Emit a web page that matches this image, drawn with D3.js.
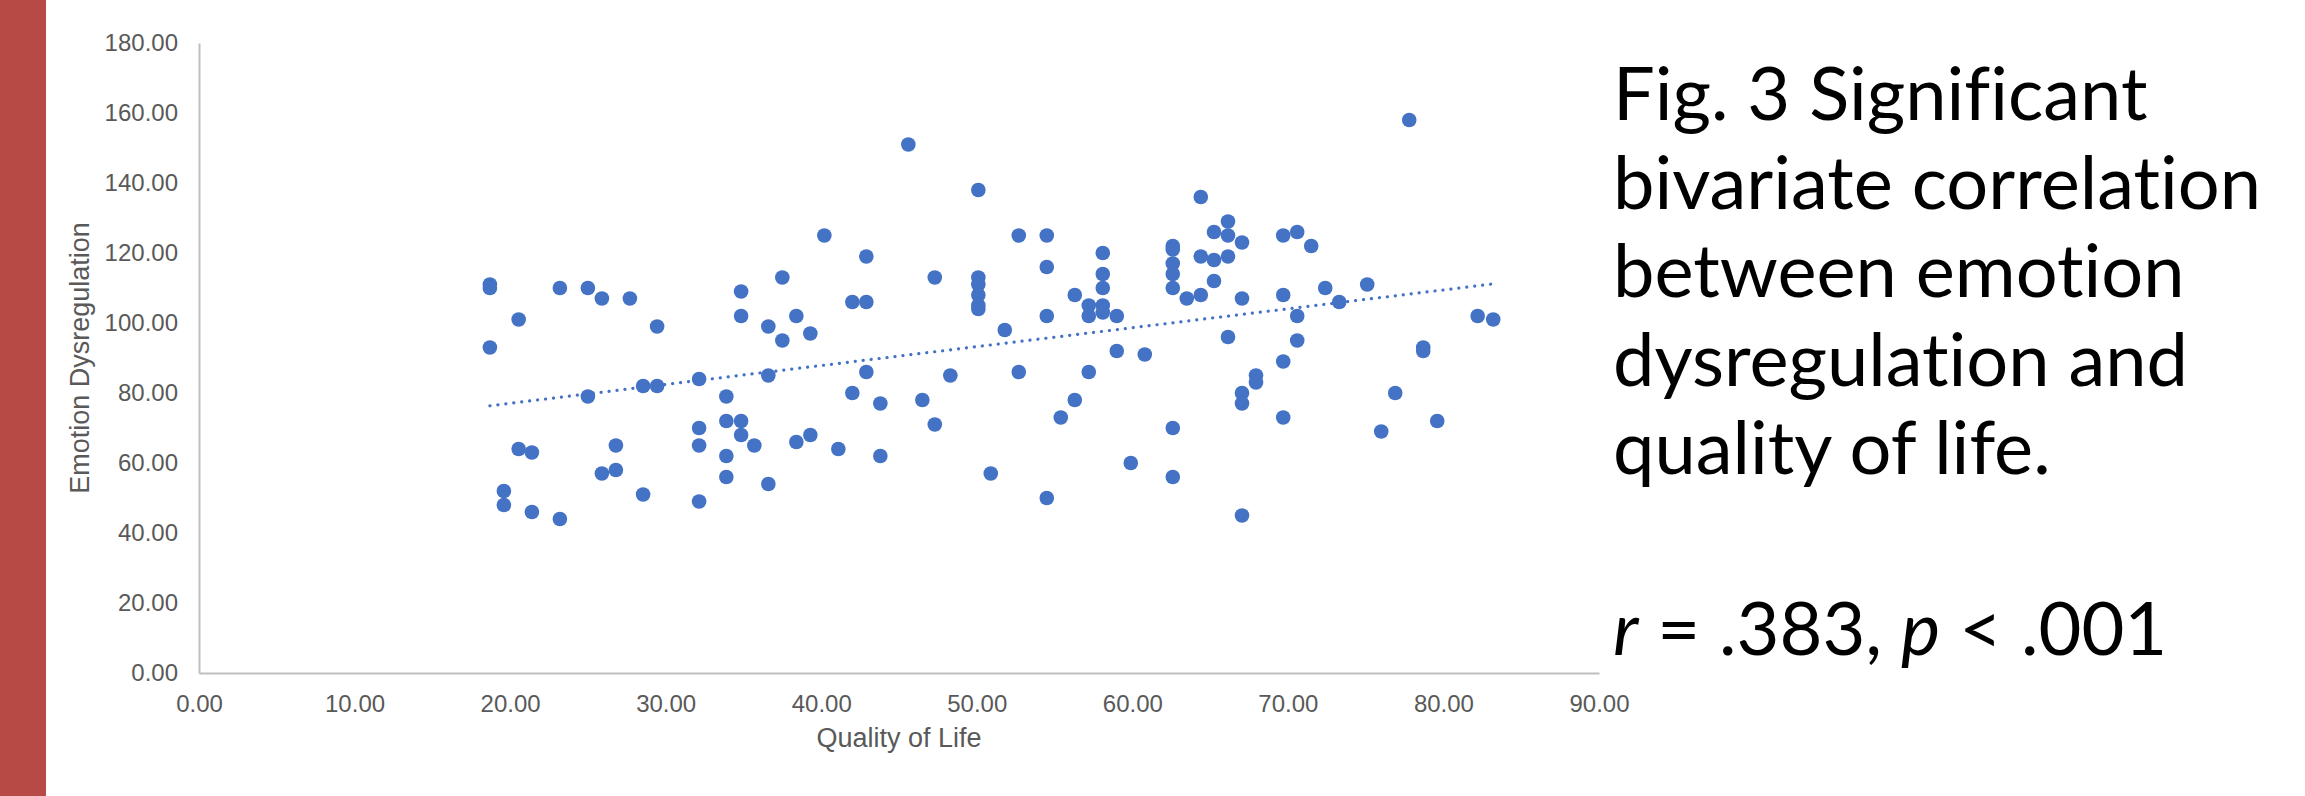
<!DOCTYPE html>
<html>
<head>
<meta charset="utf-8">
<script src="https://cdn.jsdelivr.net/npm/d3@7"></script>
<style>
  html, body { margin: 0; padding: 0; background: #fff; }
  svg { display: block; }
</style>
</head>
<body>
<div id="chart"></div>
<script>
// Quality of Life scores (x) and Emotion Dysregulation scores (y)
var qualityOfLife = [
  18.7, 18.7, 18.7, 19.6, 19.6, 20.55, 20.55, 21.4, 21.4, 23.2,
  23.2, 25.0, 25.0, 25.9, 25.9, 26.8, 26.8, 27.7, 28.55, 28.55,
  29.45, 29.45, 32.15, 32.15, 32.15, 32.15, 33.9, 33.9, 33.9, 33.9,
  34.85, 34.85, 34.85, 34.85, 35.7, 36.6, 36.6, 36.6, 37.5, 37.5,
  38.4, 38.4, 39.3, 39.3, 40.2, 41.1, 42.0, 42.0, 42.9, 42.9,
  42.9, 43.8, 43.8, 45.6, 46.5, 47.3, 47.3, 48.3, 50.1, 50.1,
  50.1, 50.1, 50.1, 50.1, 50.9, 51.8, 52.7, 52.7, 54.5, 54.5,
  54.5, 54.5, 55.4, 56.3, 56.3, 57.2, 57.2, 57.2, 58.1, 58.1,
  58.1, 58.1, 58.1, 59.0, 59.0, 59.9, 60.8, 62.6, 62.6, 62.6,
  62.6, 62.6, 62.6, 62.6, 63.5, 64.4, 64.4, 64.4, 65.25, 65.25,
  65.25, 66.15, 66.15, 66.15, 66.15, 67.05, 67.05, 67.05, 67.05, 67.05,
  67.95, 67.95, 69.7, 69.7, 69.7, 69.7, 70.6, 70.6, 70.6, 71.5,
  72.4, 73.3, 75.1, 76.0, 76.9, 77.8, 78.7, 78.7, 79.6, 82.2,
  83.2
];
var emotionDysregulation = [
  111, 110, 93, 52, 48, 101, 64, 63, 46, 110,
  44, 110, 79, 107, 57, 65, 58, 107, 82, 51,
  99, 82, 84, 70, 65, 49, 79, 72, 62, 56,
  109, 102, 72, 68, 65, 99, 85, 54, 113, 95,
  102, 66, 97, 68, 125, 64, 106, 80, 119, 106,
  86, 77, 62, 151, 78, 113, 71, 85, 138, 113,
  111, 108, 105, 104, 57, 98, 125, 86, 125, 116,
  102, 50, 73, 108, 78, 105, 102, 86, 120, 114,
  110, 105, 103, 102, 92, 60, 91, 122, 121, 117,
  114, 110, 70, 56, 107, 136, 119, 108, 126, 118,
  112, 129, 125, 119, 96, 123, 107, 80, 77, 45,
  85, 83, 125, 108, 89, 73, 126, 102, 95, 122,
  110, 106, 111, 69, 80, 158, 93, 92, 72, 102,
  101
];
var xTicks = [0, 10, 20, 30, 40, 50, 60, 70, 80, 90];
var yTicks = [0, 20, 40, 60, 80, 100, 120, 140, 160, 180];
var captionLines = [
  "Fig. 3 Significant",
  "bivariate correlation",
  "between emotion",
  "dysregulation and",
  "quality of life."
];

var W = 2305, H = 796;
var margin = { top: 43, left: 199, right: W - 1599, bottom: H - 673 };
var width = W - margin.left - margin.right,
    height = H - margin.top - margin.bottom;

var points = qualityOfLife.map(function(x, i) { return { x: x, y: emotionDysregulation[i] }; });

var svg = d3.select("#chart").append("svg")
    .attr("width", W)
    .attr("height", H);

// red band on the left
svg.append("rect")
    .attr("x", 0).attr("y", 0)
    .attr("width", 46).attr("height", H)
    .attr("fill", "#b84a46");

var g = svg.append("g")
    .attr("transform", "translate(" + margin.left + "," + margin.top + ")");

var x = d3.scaleLinear().domain([0, 90]).range([0, width]);
var y = d3.scaleLinear().domain([0, 180]).range([height, 0]);
var fmt = d3.format(".2f");

// axes
var xAxis = g.append("g")
    .attr("transform", "translate(0," + height + ")")
    .call(d3.axisBottom(x).tickValues(xTicks).tickFormat(fmt).tickSize(0).tickPadding(22));
var yAxis = g.append("g")
    .call(d3.axisLeft(y).tickValues(yTicks).tickFormat(fmt).tickSize(0).tickPadding(21));

[xAxis, yAxis].forEach(function(ax) {
  ax.select(".domain").attr("stroke", "#bfbfbf").attr("stroke-width", 2);
  ax.selectAll("text")
    .attr("fill", "#595959")
    .style("font-family", "'Liberation Sans', Arial, sans-serif")
    .style("font-size", "24px");
});
xAxis.selectAll("text").attr("dy", "0.71em");

// linear trendline (least squares)
var mx = d3.mean(points, function(d) { return d.x; }),
    my = d3.mean(points, function(d) { return d.y; });
var slope = d3.sum(points, function(d) { return (d.x - mx) * (d.y - my); }) /
            d3.sum(points, function(d) { return (d.x - mx) * (d.x - mx); });
var intercept = my - slope * mx;
var xExt = d3.extent(points, function(d) { return d.x; });

// points
g.selectAll(".dot")
    .data(points)
    .enter().append("circle")
    .attr("class", "dot")
    .attr("cx", function(d) { return x(d.x); })
    .attr("cy", function(d) { return y(d.y); })
    .attr("r", 7.3)
    .attr("fill", "#4472c4");

g.append("line")
    .attr("x1", x(xExt[0])).attr("y1", y(intercept + slope * xExt[0]))
    .attr("x2", x(xExt[1])).attr("y2", y(intercept + slope * xExt[1]))
    .attr("stroke", "#4472c4")
    .attr("stroke-width", 3.2)
    .attr("stroke-linecap", "round")
    .attr("stroke-dasharray", "0.1 7.9");

// axis titles
svg.append("text")
    .attr("x", margin.left + width / 2)
    .attr("y", 747)
    .attr("text-anchor", "middle")
    .attr("fill", "#595959")
    .style("font-family", "'Liberation Sans', Arial, sans-serif")
    .style("font-size", "27px")
    .text("Quality of Life");

svg.append("text")
    .attr("transform", "translate(89," + (margin.top + height / 2) + ") rotate(-90)")
    .attr("text-anchor", "middle")
    .attr("fill", "#595959")
    .style("font-family", "'Liberation Sans', Arial, sans-serif")
    .style("font-size", "27px")
    .text("Emotion Dysregulation");

// caption on the right
var caption = svg.append("text")
    .attr("fill", "#000")
    .style("font-family", "Lato, 'Open Sans', sans-serif")
    .style("font-size", "74px")
    .style("font-variant-ligatures", "none");
captionLines.forEach(function(line, i) {
  caption.append("tspan")
    .attr("x", 1613)
    .attr("y", 120 + i * 88.5)
    .text(line);
});

var stat = svg.append("text")
    .attr("x", 1613)
    .attr("y", 655)
    .attr("fill", "#000")
    .style("font-family", "Lato, 'Open Sans', sans-serif")
    .style("font-size", "74px")
    .style("font-variant-ligatures", "none");
stat.append("tspan").style("font-style", "italic").text("r");
stat.append("tspan").text(" = .383, ");
stat.append("tspan").style("font-style", "italic").text("p");
stat.append("tspan").text(" < .001");
</script>
</body>
</html>
